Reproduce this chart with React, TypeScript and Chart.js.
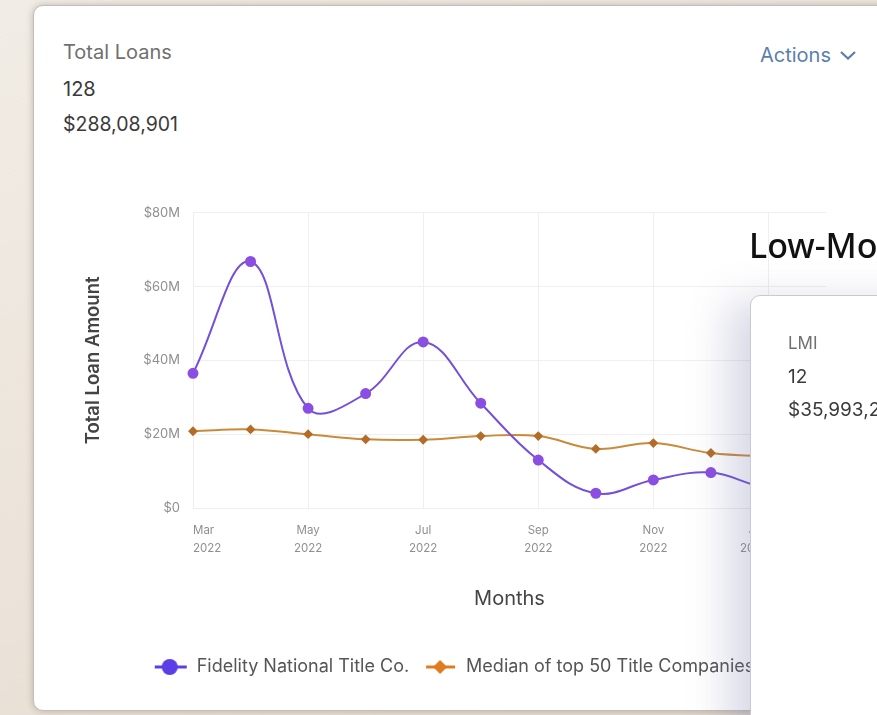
import React, { useEffect, useRef } from 'react';
import { Chart, registerables } from 'chart.js';

Chart.register(...registerables);

// Monthly totals, in millions of dollars
const months = ['Mar', 'Apr', 'May', 'Jun', 'Jul', 'Aug', 'Sep', 'Oct', 'Nov', 'Dec', 'Jan', 'Feb'];
const years = ['2022', '2022', '2022', '2022', '2022', '2022', '2022', '2022', '2022', '2022', '2023', '2023'];
const fidelity = [36.5, 66.8, 27.0, 31.0, 45.0, 28.4, 13.0, 4.0, 7.6, 9.6, 5.5, 7.0];
const medianTop50 = [20.8, 21.3, 20.0, 18.6, 18.5, 19.5, 19.5, 16.0, 17.6, 14.9, 14.0, 13.5];
const yMax = 80;
const yStep = 20;

const seriesNames = ['Fidelity National Title Co.', 'Median of top 50 Title Companies'];

const PURPLE_LINE = '#7450d8';
const PURPLE_POINT = '#8a4fe2';
const PURPLE_KEY = '#5b3fe4';
const ORANGE_LINE = '#c98b3a';
const ORANGE_POINT = '#b36d28';
const ORANGE_KEY = '#e07c1f';

const FONT = 'Inter, "Noto Sans", sans-serif';

function legendMarker(color: string, shape: 'circle' | 'diamond'): HTMLCanvasElement {
  const c = document.createElement('canvas');
  c.width = 34;
  c.height = 20;
  const g = c.getContext('2d') as CanvasRenderingContext2D;
  g.strokeStyle = color;
  g.lineWidth = 3;
  g.beginPath();
  g.moveTo(shape === 'circle' ? 1 : 3, 10);
  g.lineTo(shape === 'circle' ? 33 : 32, 10);
  g.stroke();
  g.fillStyle = color;
  g.beginPath();
  if (shape === 'circle') {
    g.arc(16, 10, 8, 0, Math.PI * 2);
  } else {
    g.moveTo(17, 3);
    g.lineTo(24, 10);
    g.lineTo(17, 17);
    g.lineTo(10, 10);
    g.closePath();
  }
  g.fill();
  return c;
}

function LoanChart() {
  const ref = useRef<HTMLCanvasElement | null>(null);

  useEffect(() => {
    if (!ref.current) return;
    const markers = [legendMarker(PURPLE_KEY, 'circle'), legendMarker(ORANGE_KEY, 'diamond')];
    const chart = new Chart(ref.current, {
      type: 'line',
      data: {
        labels: months.map((m, i) => [m, years[i]]),
        datasets: [
          {
            label: seriesNames[0],
            data: fidelity,
            borderColor: PURPLE_LINE,
            backgroundColor: PURPLE_POINT,
            pointBackgroundColor: PURPLE_POINT,
            pointBorderColor: PURPLE_POINT,
            pointRadius: 4.5,
            borderWidth: 2,
            tension: 0.4,
            clip: 10,
          },
          {
            label: seriesNames[1],
            data: medianTop50,
            borderColor: ORANGE_LINE,
            backgroundColor: ORANGE_POINT,
            pointBackgroundColor: ORANGE_POINT,
            pointBorderColor: ORANGE_POINT,
            pointStyle: 'rectRot',
            pointRadius: 3.5,
            borderWidth: 2,
            tension: 0.4,
            clip: 10,
          },
        ],
      },
      options: {
        animation: false,
        responsive: false,
        maintainAspectRatio: false,
        layout: { padding: { left: 18, right: 20, top: 3, bottom: 19 } },
        scales: {
          x: {
            grid: { color: '#efefef', drawTicks: false },
            border: { color: '#eeeeee' },
            ticks: {
              autoSkip: false,
              maxRotation: 0,
              align: 'inner',
              padding: 14,
              color: '#8f8f8f',
              font: { family: FONT, size: 11.5, lineHeight: 1.55 },
              callback: (_v: any, i: number) => (i % 2 === 0 ? [months[i], years[i]] : null),
            },
            title: {
              display: true,
              text: 'Months',
              color: '#444',
              font: { family: FONT, size: 20 },
              padding: { top: 4, bottom: 33 },
            },
            afterFit: (s: any) => {
              s.height = 136;
            },
          },
          y: {
            min: 0,
            max: yMax,
            grid: { color: '#efefef', drawTicks: false },
            border: { color: '#eeeeee' },
            ticks: {
              stepSize: yStep,
              padding: 13,
              color: '#8f8f8f',
              font: { family: FONT, size: 13 },
              callback: (v: any) => (v === 0 ? '$0' : '$' + v + 'M'),
            },
            title: {
              display: true,
              text: 'Total Loan Amount',
              color: '#444',
              font: { family: FONT, size: 18.5, weight: '600' },
              padding: { top: 0, bottom: 4 },
            },
            afterFit: (s: any) => {
              s.width = 111;
            },
          },
        },
        plugins: {
          tooltip: { enabled: false },
          legend: {
            position: 'bottom',
            labels: {
              usePointStyle: true,
              pointStyleWidth: 34,
              padding: 14,
              color: '#555',
              font: { family: FONT, size: 18 },
              generateLabels: (c: any) =>
                Chart.defaults.plugins.legend.labels.generateLabels(c).map((item: any, i: number) => ({
                  ...item,
                  pointStyle: markers[i],
                })),
            },
          },
        },
      },
    } as any);
    return () => chart.destroy();
  }, []);

  return (
    <canvas
      ref={ref}
      width={782}
      height={513}
      style={{ position: 'absolute', left: 30, top: 186, width: 782, height: 513 }}
    />
  );
}

const textRow = (top: number, size: number, color: string): React.CSSProperties => ({
  position: 'absolute',
  left: 29,
  top,
  fontSize: size,
  lineHeight: '24px',
  color,
  whiteSpace: 'nowrap',
});

export default function App() {
  return (
    <div
      style={{
        position: 'absolute',
        left: 0,
        top: 0,
        width: 877,
        height: 715,
        overflow: 'hidden',
        background: 'linear-gradient(160deg, #f1ece5 0%, #ebe3d9 60%, #e2d9ce 100%)',
        fontFamily: FONT,
      }}
    >
      <div
        style={{
          position: 'absolute',
          left: 33,
          top: 5,
          width: 900,
          height: 704,
          background: '#fff',
          borderRadius: 10,
          border: '1px solid #c4beb7',
          boxShadow: '0 0 7px rgba(60,50,40,0.28)',
        }}
      >
        <div style={textRow(34, 20, '#707070')}>Total Loans</div>
        <div style={textRow(71, 20, '#3a3a3a')}>128</div>
        <div style={textRow(106, 19.5, '#3a3a3a')}>$288,08,901</div>
        <div
          style={{
            position: 'absolute',
            left: 726,
            top: 37,
            fontSize: 20,
            lineHeight: '24px',
            color: '#5a7fae',
            display: 'flex',
            alignItems: 'center',
            gap: 8,
          }}
        >
          <span>Actions</span>
          <svg width="18" height="10" viewBox="0 0 18 10">
            <polyline points="2,2 9,8.5 16,2" fill="none" stroke="#5a7fae" strokeWidth="2.2" />
          </svg>
        </div>
        <LoanChart />
      </div>
      <div
        style={{
          position: 'absolute',
          left: 749,
          top: 225,
          fontFamily: '"Noto Sans", sans-serif',
          fontSize: 34,
          lineHeight: '40px',
          fontWeight: 500,
          color: '#111',
          whiteSpace: 'nowrap',
        }}
      >
        Low-Moderate Income
      </div>
      <div
        style={{
          position: 'absolute',
          left: 750,
          top: 295,
          width: 300,
          height: 500,
          background: '#fff',
          borderRadius: 10,
          border: '1px solid #c9c9cf',
          boxShadow: '-22px 6px 40px rgba(105,110,160,0.26)',
        }}
      >
        <div style={{ ...textRow(35, 17, '#707070'), left: 37 }}>LMI</div>
        <div style={{ ...textRow(69, 19, '#3a3a3a'), left: 37 }}>12</div>
        <div style={{ ...textRow(102, 19, '#3a3a3a'), left: 37 }}>$35,993,210</div>
      </div>
    </div>
  );
}
